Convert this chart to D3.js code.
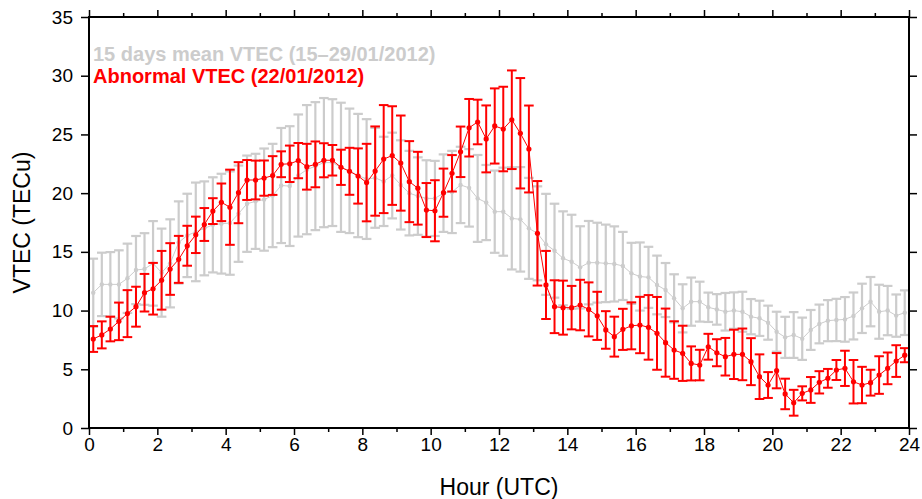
<!DOCTYPE html>
<html><head><meta charset="utf-8">
<script src="https://cdn.jsdelivr.net/npm/d3@7"></script>
<style>body{margin:0;background:#fff}svg{display:block;font-family:"Liberation Sans",Arial,Helvetica,sans-serif}</style>
</head><body><svg id="c" width="922" height="499"></svg>
<script>
const hours = [0.125,0.375,0.625,0.875,1.125,1.375,1.625,1.875,2.125,2.375,2.625,2.875,3.125,3.375,3.625,3.875,4.125,4.375,4.625,4.875,5.125,5.375,5.625,5.875,6.125,6.375,6.625,6.875,7.125,7.375,7.625,7.875,8.125,8.375,8.625,8.875,9.125,9.375,9.625,9.875,10.125,10.375,10.625,10.875,11.125,11.375,11.625,11.875,12.125,12.375,12.625,12.875,13.125,13.375,13.625,13.875,14.125,14.375,14.625,14.875,15.125,15.375,15.625,15.875,16.125,16.375,16.625,16.875,17.125,17.375,17.625,17.875,18.125,18.375,18.625,18.875,19.125,19.375,19.625,19.875,20.125,20.375,20.625,20.875,21.125,21.375,21.625,21.875,22.125,22.375,22.625,22.875,23.125,23.375,23.625,23.875];

const meanVTEC = [11.52,12.23,12.23,12.23,12.75,13.45,13.54,14.02,13.23,14.02,15.8,16.4,16.7,17.0,17.3,17.4,17.45,18.25,19.1,19.3,19.45,19.8,20.65,20.6,21.5,22.0,22.3,22.6,22.6,22.2,21.9,21.5,21.2,21.3,21.0,21.5,20.7,20.0,19.75,19.55,19.55,20.0,20.1,20.7,20.45,19.55,19.2,18.42,18.42,17.85,17.77,17.0,16.58,15.64,15.1,14.45,14.16,13.68,14.08,14.08,14.02,13.97,13.8,13.17,12.9,12.83,12.18,11.75,11.04,10.19,10.76,10.76,10.28,10.1,9.9,10.0,9.9,9.48,9.34,8.97,8.2,7.72,7.92,7.6,8.35,8.86,9.14,9.2,9.25,9.54,10.19,10.76,9.9,10.0,9.57,9.82];
const meanStd = [2.9,2.7,2.75,2.9,2.95,2.9,3.05,3.6,3.75,3.75,3.5,3.55,4.2,4.0,4.05,4.25,4.4,4.1,4.1,4.05,4.35,4.4,4.9,5.1,5.2,5.5,5.45,5.5,5.4,5.5,5.3,5.25,5.1,4.25,3.8,3.65,3.8,3.6,3.3,3.25,3.2,3.3,3.5,3.25,3.3,3.7,3.2,3.5,3.75,4.35,4.45,4.3,4.0,4.3,4.0,4.0,4.0,3.5,3.55,3.4,3.3,3.2,2.9,2.6,2.9,2.6,2.5,2.3,2.05,2.05,2.05,1.7,1.25,1.3,1.6,1.55,1.7,1.5,1.5,1.45,1.7,1.75,1.95,1.8,1.7,1.65,1.75,1.8,1.9,2.0,2.1,2.1,2.3,2.1,1.8,1.9];

const abnVTEC = [7.58,7.93,8.43,9.08,9.74,10.33,11.52,11.86,12.58,13.54,14.36,15.52,16.45,17.33,18.47,19.22,18.8,20.04,21.12,21.12,21.28,21.5,22.46,22.5,22.77,22.25,22.45,22.8,22.8,22.2,21.86,21.46,20.9,21.88,22.9,23.2,22.56,20.98,20.42,18.56,18.5,20.04,21.69,23.52,25.57,26.06,24.62,25.72,25.46,26.25,25.1,23.76,16.58,12.18,10.33,10.25,10.25,10.47,10.1,9.55,8.35,7.78,8.4,8.7,8.77,8.57,8.06,7.27,6.64,6.36,5.5,5.36,6.92,6.41,6.07,6.27,6.27,5.65,4.37,3.66,4.88,2.9,2.15,2.95,3.24,3.89,4.23,4.94,5.08,3.94,3.66,3.86,4.51,5.08,5.7,6.2];
const abnStd = [1.1,1.15,1.05,1.6,2.0,1.7,1.6,2.2,2.5,2.2,2.0,1.7,1.55,1.4,1.1,1.6,3.2,2.6,1.7,1.65,1.5,1.65,1.1,1.55,1.5,1.95,1.95,1.45,1.3,1.5,2.0,2.35,3.3,3.8,4.6,4.2,4.05,3.45,3.1,2.3,2.6,2.05,1.55,2.15,2.45,1.9,2.85,3.2,3.6,4.2,4.7,3.7,4.45,2.9,2.25,2.3,1.85,2.15,2.3,2.05,1.6,1.7,1.75,2.0,2.4,2.75,3.1,2.9,2.45,2.35,1.45,1.3,1.1,1.15,1.6,2.1,2.2,2.0,1.9,1.1,1.5,1.3,1.1,0.6,1.1,0.95,0.8,0.85,1.5,1.85,1.55,1.1,1.6,1.35,1.35,0.6];

const xTicks = [0,2,4,6,8,10,12,14,16,18,20,22,24];
const xMinor = [1,3,5,7,9,11,13,15,17,19,21,23];
const yTicks = [0,5,10,15,20,25,30,35];
const legendMean = "15 days mean VTEC (15\u201329/01/2012)";
const legendAbn = "Abnormal VTEC (22/01/2012)";
const xTitle = "Hour (UTC)";
const yTitle = "VTEC (TECu)";

const L=89, T=17, W=820, H=411;
const GRAY="#cccccc", RED="#ff0000";
const svg = d3.select("#c");
const x = d3.scaleLinear().domain([0,24]).range([L, L+W]);
const y = d3.scaleLinear().domain([0,35]).range([T+H, T]);

function series(vals, sds, color, opt){
  const g = svg.append("g");
  const data = hours.map((h,i)=>({h, v:vals[i], s:sds[i]}));
  g.selectAll("line.bar").data(data).join("line")
    .attr("x1",d=>x(d.h)).attr("x2",d=>x(d.h))
    .attr("y1",d=>y(d.v+d.s)).attr("y2",d=>y(d.v-d.s))
    .attr("stroke",color).attr("stroke-width",opt.bw);
  ["top","bot"].forEach(k=>{
    g.selectAll("line.cap"+k).data(data).join("line")
      .attr("x1",d=>x(d.h)-opt.cap).attr("x2",d=>x(d.h)+opt.cap)
      .attr("y1",d=>y(k==="top"?d.v+d.s:d.v-d.s)).attr("y2",d=>y(k==="top"?d.v+d.s:d.v-d.s))
      .attr("stroke",color).attr("stroke-width",opt.bw);
  });
  g.append("path").datum(data)
    .attr("d", d3.line().x(d=>x(d.h)).y(d=>y(d.v)))
    .attr("fill","none").attr("stroke",color).attr("stroke-width",1);
  g.selectAll("circle").data(data).join("circle")
    .attr("cx",d=>x(d.h)).attr("cy",d=>y(d.v)).attr("r",opt.r).attr("fill",color);
}
series(meanVTEC, meanStd, GRAY, {bw:2.2, cap:4.8, r:2.2});
series(abnVTEC, abnStd, RED, {bw:2, cap:4.8, r:2.6});

// frame
svg.append("rect").attr("x",L).attr("y",T).attr("width",W).attr("height",H)
  .attr("fill","none").attr("stroke","#000").attr("stroke-width",2);

// axes
const fmt = d3.format("d");
const ax = [
  d3.axisBottom(x).tickValues(xTicks).tickSize(7).tickFormat(fmt),
  d3.axisTop(x).tickValues(xTicks).tickSize(7).tickFormat(""),
];
svg.append("g").attr("transform",`translate(0,${T+H})`).call(ax[0]);
svg.append("g").attr("transform",`translate(0,${T})`).call(ax[1]);
svg.append("g").attr("transform",`translate(0,${T+H})`).call(d3.axisBottom(x).tickValues(xMinor).tickSize(4).tickFormat(""));
svg.append("g").attr("transform",`translate(0,${T})`).call(d3.axisTop(x).tickValues(xMinor).tickSize(4).tickFormat(""));
svg.append("g").attr("transform",`translate(${L},0)`).call(d3.axisLeft(y).tickValues(yTicks).tickSize(8).tickPadding(8).tickFormat(fmt));
svg.append("g").attr("transform",`translate(${L+W},0)`).call(d3.axisRight(y).tickValues(yTicks).tickSize(8).tickFormat(""));
svg.selectAll(".domain").remove();
svg.selectAll(".tick line").attr("stroke","#000").attr("stroke-width",1.5);
svg.selectAll(".tick text").attr("font-size",19).attr("fill","#000").attr("font-family","'Liberation Sans',Arial,sans-serif");

// titles
svg.append("text").attr("x",x(12)).attr("y",495).attr("text-anchor","middle")
  .attr("font-size",23).text(xTitle);
svg.append("text").attr("transform",`translate(30,${y(17.5)}) rotate(-90)`).attr("text-anchor","middle")
  .attr("font-size",23).text(yTitle);

// legend
svg.append("text").attr("x",93).attr("y",61).attr("font-size",20).attr("font-weight","bold").attr("fill",GRAY).text(legendMean);
svg.append("text").attr("x",93).attr("y",83).attr("font-size",20).attr("font-weight","bold").attr("fill",RED).text(legendAbn);
</script></body></html>
